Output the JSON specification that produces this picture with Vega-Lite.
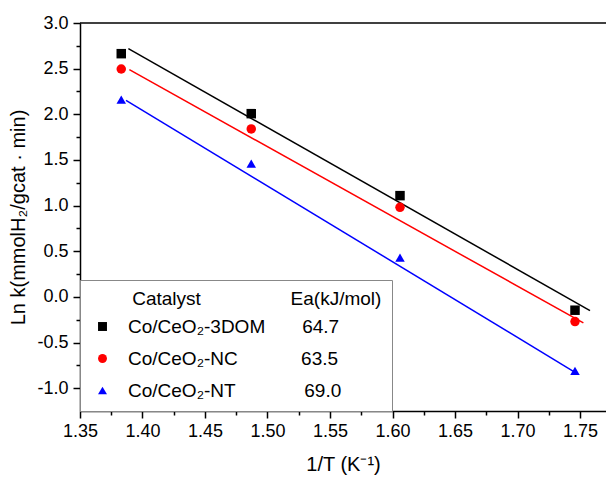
{
  "$schema": "https://vega.github.io/schema/vega-lite/v6.json",
  "autosize": "none",
  "width": 526,
  "height": 388,
  "padding": {"left": 80, "top": 23, "right": 0, "bottom": 70},
  "background": "white",
  "config": {
    "view": {"stroke": null},
    "font": "Liberation Sans",
    "axis": {"grid": false, "domainColor": "black", "tickColor": "black", "domainWidth": 1.5, "tickWidth": 1.5, "labelColor": "black", "titleColor": "black", "titleFontWeight": "normal", "labelOverlap": false, "labelFlush": false}
  },
  "datasets": {
    "pts": [
      {"catalyst": "Co/CeO₂-3DOM", "invT": 1.383, "lnk": 2.664},
      {"catalyst": "Co/CeO₂-3DOM", "invT": 1.487, "lnk": 2.007},
      {"catalyst": "Co/CeO₂-3DOM", "invT": 1.606, "lnk": 1.109},
      {"catalyst": "Co/CeO₂-3DOM", "invT": 1.746, "lnk": -0.146},
      {"catalyst": "Co/CeO₂-NC", "invT": 1.383, "lnk": 2.496},
      {"catalyst": "Co/CeO₂-NC", "invT": 1.487, "lnk": 1.840},
      {"catalyst": "Co/CeO₂-NC", "invT": 1.606, "lnk": 0.981},
      {"catalyst": "Co/CeO₂-NC", "invT": 1.746, "lnk": -0.270},
      {"catalyst": "Co/CeO₂-NT", "invT": 1.383, "lnk": 2.160},
      {"catalyst": "Co/CeO₂-NT", "invT": 1.487, "lnk": 1.460},
      {"catalyst": "Co/CeO₂-NT", "invT": 1.606, "lnk": 0.430},
      {"catalyst": "Co/CeO₂-NT", "invT": 1.746, "lnk": -0.810}
    ],
    "fits": [
      {"catalyst": "Co/CeO₂-3DOM", "invT": 1.3887, "lnk": 2.719},
      {"catalyst": "Co/CeO₂-3DOM", "invT": 1.758, "lnk": -0.150},
      {"catalyst": "Co/CeO₂-NC", "invT": 1.3895, "lnk": 2.489},
      {"catalyst": "Co/CeO₂-NC", "invT": 1.7527, "lnk": -0.285},
      {"catalyst": "Co/CeO₂-NT", "invT": 1.3868, "lnk": 2.153},
      {"catalyst": "Co/CeO₂-NT", "invT": 1.7447, "lnk": -0.815}
    ],
    "frame": [{"lnk": 3.0}]
  },
  "encoding": {
    "x": {"field": "invT", "type": "quantitative",
      "scale": {"domain": [1.35, 1.7708], "nice": false, "zero": false},
      "axis": {
        "values": [1.35,1.375,1.4,1.425,1.45,1.475,1.5,1.525,1.55,1.575,1.6,1.625,1.65,1.675,1.7,1.725,1.75],
        "labelExpr": "abs(datum.value*20 - round(datum.value*20)) < 0.01 ? format(datum.value, '.2f') : ''",
        "tickSize": {"condition": {"test": "abs(datum.value*20 - round(datum.value*20)) < 0.01", "value": 7}, "value": 4},
        "title": "1/T (K⁻¹)", "labelFontSize": 18, "titleFontSize": 20, "labelPadding": 4, "titlePadding": 14
      }
    },
    "y": {"field": "lnk", "type": "quantitative",
      "scale": {"domain": [-1.25, 3.0], "nice": false, "zero": false},
      "axis": {
        "values": [-1,-0.75,-0.5,-0.25,0,0.25,0.5,0.75,1,1.25,1.5,1.75,2,2.25,2.5,2.75,3],
        "labelExpr": "abs(datum.value*2 - round(datum.value*2)) < 0.01 ? replace(format(datum.value, '.1f'), '−', '-') : ''",
        "tickSize": {"condition": {"test": "abs(datum.value*2 - round(datum.value*2)) < 0.01", "value": 7}, "value": 4},
        "title": "Ln k(mmolH₂/gcat · min)", "labelFontSize": 18, "titleFontSize": 20, "labelPadding": 5, "titlePadding": 8
      }
    }
  },
  "layer": [
    {
      "data": {"name": "frame"},
      "mark": {"type": "rule", "color": "black", "strokeWidth": 1.5},
      "encoding": {"x": null, "y": {"field": "lnk", "type": "quantitative"}}
    },
    {
      "data": {"name": "fits"},
      "mark": {"type": "line", "strokeWidth": 1.5},
      "encoding": {
        "color": {"field": "catalyst", "type": "nominal",
          "scale": {"domain": ["Co/CeO₂-3DOM", "Co/CeO₂-NC", "Co/CeO₂-NT"], "range": ["#000000", "#ff0000", "#0000ff"]}}
      }
    },
    {
      "data": {"name": "pts"},
      "mark": {"type": "point", "filled": true, "opacity": 1, "size": 90},
      "encoding": {
        "color": {"field": "catalyst", "type": "nominal",
          "scale": {"domain": ["Co/CeO₂-3DOM", "Co/CeO₂-NC", "Co/CeO₂-NT"], "range": ["#000000", "#ff0000", "#0000ff"]},
          "legend": {
            "orient": "bottom-left", "offset": 0, "strokeColor": "#888888", "fillColor": "white", "padding": 10,
            "title": "\u200b\u00a0\u00a0\u00a0\u00a0\u00a0\u00a0\u00a0\u00a0Catalyst\u00a0\u00a0\u00a0\u00a0\u00a0\u00a0\u00a0\u00a0\u00a0\u00a0\u00a0\u00a0\u00a0\u00a0\u00a0\u00a0\u00a0Ea(kJ/mol)",
            "titleFontSize": 19, "titleFontWeight": "normal", "titleColor": "black", "titleLimit": 500, "titlePadding": 8,
            "labelFontSize": 19, "labelColor": "black", "labelLimit": 500, "labelOffset": 16, "symbolOffset": 3,
            "rowPadding": 12, "symbolSize": 80, "symbolStrokeWidth": 0,
            "labelExpr": "datum.label + (datum.label == 'Co/CeO₂-3DOM' ? '\u00a0\u00a0\u00a0\u00a0\u00a0\u00a0\u00a064.7' : datum.label == 'Co/CeO₂-NC' ? '\u00a0\u00a0\u00a0\u00a0\u00a0\u00a0\u00a0\u00a0\u00a0\u00a0\u00a0\u00a063.5' : '\u00a0\u00a0\u00a0\u00a0\u00a0\u00a0\u00a0\u00a0\u00a0\u00a0\u00a0\u00a0\u00a069.0')"
          }
        },
        "shape": {"field": "catalyst", "type": "nominal",
          "scale": {"domain": ["Co/CeO₂-3DOM", "Co/CeO₂-NC", "Co/CeO₂-NT"], "range": ["square", "circle", "triangle-up"]}}
      }
    }
  ]
}
